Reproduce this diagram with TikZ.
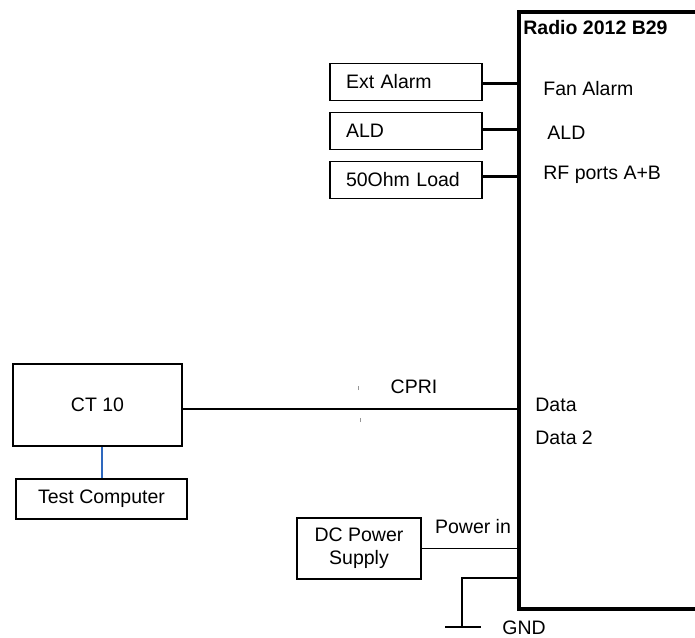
\documentclass[tikz,border=0pt]{standalone}
\usepackage{fontspec}
\setmainfont{Liberation Sans}
\usetikzlibrary{positioning}
\definecolor{linkblue}{RGB}{46,104,190}
\definecolor{tickgray}{RGB}{150,150,150}

\begin{document}
\begin{tikzpicture}[
  x=0.5pt,y=-0.5pt,
  every node/.style={font=\fontsize{9.75}{11.5}\selectfont},
  unit/.style={draw,line width=0.9pt,minimum height=18.5pt,text width=60pt,align=left,inner xsep=8pt,inner ysep=0pt},
  box/.style={draw,line width=0.9pt,align=center,inner sep=1pt},
  radiobox/.style={anchor=north west,inner sep=0pt,outer sep=0pt,minimum width=300pt,minimum height=298.5pt},
  frame/.style={line width=2.3pt},
  port/.style={anchor=west,inner sep=0pt},
  tap/.style={line width=1.5pt},
  wire/.style={line width=0.8pt}
]
\useasboundingbox (0,0) rectangle (695,637);
\clip (0,0) rectangle (695,637);

% radio unit, its right side runs off the page
\node[radiobox] (radio) at (519,12) {};
\draw[frame] ([xshift=20pt]radio.north -| 695,0) -- (radio.north west) -- (radio.south west) -- ([xshift=20pt]radio.south -| 695,0);
\node[anchor=north west,inner sep=0pt,font=\fontsize{9.75}{11.5}\selectfont\bfseries] (title) at (523,20) {Radio 2012 B29};

% top: accessories on the radio ports
\node[unit] (ext) at (406,82) {Ext Alarm};
\node[unit] (ald) at (406,131) {ALD};
\node[unit] (load) at (406,180) {50Ohm Load};

\draw[tap] (ext.east |- 0,83) -- (radio.west |- 0,83);
\draw[tap] (ald.east |- 0,129) -- (radio.west |- 0,129);
\draw[tap] (load.east |- 0,176) -- (radio.west |- 0,176);

\node[port] (fan) at (543,89) {Fan Alarm};
\node[port] (aldp) at (547,133) {ALD};
\node[port] (rf) at (543,175) {RF ports A+B};

% left: test equipment
\node[box,minimum width=84.5pt,minimum height=41pt] (ct) at (97.5,405) {CT 10};
\node[box,minimum width=85.5pt,minimum height=20pt] (pc) at (101.5,499) {Test Computer};

\draw[linkblue,line width=1pt] (pc.north |- ct.south) -- (pc.north);

\draw[line width=1.2pt] ([yshift=-2pt]ct.east) -- (radio.west |- 0,409);
\node (cpri) at (414,387) {CPRI};
\coordinate (tick1) at (358,388);
\coordinate (tick2) at (360,420);
\draw[tickgray,line width=0.5pt] ([yshift=-1pt]tick1) -- ([yshift=1pt]tick1);
\draw[tickgray,line width=0.5pt] ([yshift=-1pt]tick2) -- ([yshift=1pt]tick2);

\node[port] (data) at (535,405) {Data};
\node[port] (data2) at (535,438) {Data 2};

% bottom: power and ground
\node[box,minimum width=62pt,minimum height=30.5pt] (dc) at (359,548.5) {DC Power\\Supply};
\draw[wire] (dc.east) -- (radio.west |- dc.east);
\node (pwr) at (473,527) {Power in};

\coordinate (gndrow) at (462,578);
\coordinate (gnd) at (462,627);
\draw[wire] (radio.west |- gndrow) -- (gndrow) -- (gnd);
\draw[wire] ([xshift=-8.5pt]gnd) -- ([xshift=9.5pt]gnd);
\node[port] (gndlbl) at (502,628) {GND};

\end{tikzpicture}
\end{document}
